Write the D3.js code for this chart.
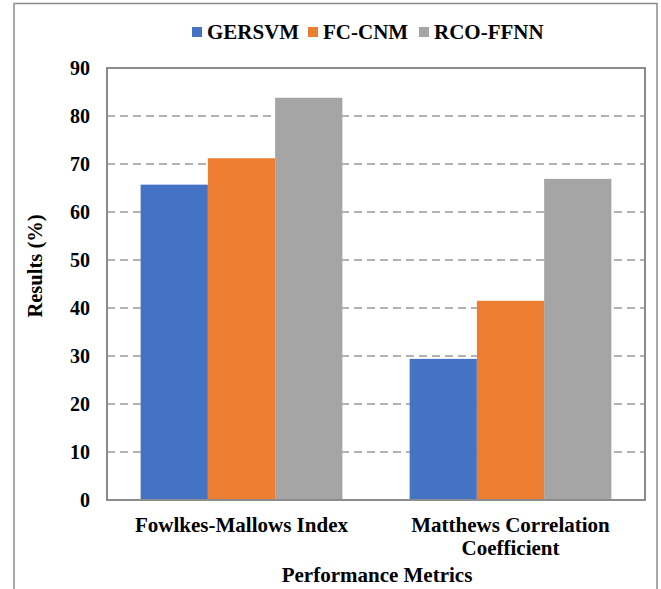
<!DOCTYPE html>
<html lang="en">
<head>
    <meta charset="UTF-8">
    <title>Performance Metrics</title>
    <script src="https://d3js.org/d3.v7.min.js"></script>
    <style>
        body { margin: 0; background: #fff; }
    </style>
</head>
<body>
    <svg width="661" height="589"></svg>

    <script>
        const categories = ["Fowlkes-Mallows Index", "Matthews Correlation Coefficient"];
        const categoryLines = [["Fowlkes-Mallows Index"], ["Matthews Correlation", "Coefficient"]];
        const seriesNames = ["GERSVM", "FC-CNM", "RCO-FFNN"];
        const gersvm = [65.7, 29.4];
        const fccnm = [71.2, 41.5];
        const rcoffnn = [83.8, 66.9];
        const yTicks = [0, 10, 20, 30, 40, 50, 60, 70, 80, 90];
        const colors = ["#4472C4", "#ED7D31", "#A5A5A5"];

        const FONT = "'Liberation Serif', 'Times New Roman', 'DejaVu Serif', serif";
        const seriesValues = [gersvm, fccnm, rcoffnn];
        const svg = d3.select("svg")
            .attr("font-family", FONT)
            .attr("font-weight", "bold");
        const margin = { left: 107, right: 16, top: 68, bottom: 89 };
        const W = 661, H = 589;

        // outer frame
        svg.append("rect")
            .attr("x", 14).attr("y", 3.5)
            .attr("width", 643).attr("height", 600)
            .attr("fill", "none").attr("stroke", "#8c8c8c").attr("stroke-width", 1.5);

        const x0 = d3.scaleBand().domain(categories)
            .range([margin.left, W - margin.right]).padding(0);
        const x1 = d3.scaleBand().domain(seriesNames)
            .range([0, x0.bandwidth()]).paddingInner(0).paddingOuter(0.5);
        const y = d3.scaleLinear().domain([0, 90]).range([H - margin.bottom, margin.top]);

        // gridlines
        svg.append("g").selectAll("line")
            .data(yTicks.filter(d => d > 0))
            .enter().append("line")
            .attr("x1", margin.left).attr("x2", W - margin.right)
            .attr("y1", d => y(d)).attr("y2", d => y(d))
            .attr("stroke", "#999").attr("stroke-width", 1.5)
            .attr("stroke-dasharray", "8,5");

        // bars
        const groups = svg.append("g").selectAll("g")
            .data(categories)
            .enter().append("g")
            .attr("transform", d => `translate(${x0(d)},0)`);

        groups.selectAll("rect")
            .data((c, i) => seriesNames.map((s, j) => ({ s, v: seriesValues[j][i], j })))
            .enter().append("rect")
            .attr("x", d => x1(d.s))
            .attr("y", d => y(d.v))
            .attr("width", x1.bandwidth())
            .attr("height", d => y(0) - y(d.v))
            .attr("fill", d => colors[d.j]);

        // plot border
        svg.append("path")
            .attr("d", `M${margin.left},${y(90)}V${y(0)}H${W - margin.right}V${y(90)}Z`)
            .attr("fill", "none").attr("stroke", "#8c8c8c").attr("stroke-width", 2);

        // y tick labels
        svg.append("g").selectAll("text")
            .data(yTicks)
            .enter().append("text")
            .attr("x", 90).attr("y", d => y(d))
            .attr("dy", "0.35em")
            .attr("text-anchor", "end")
            .attr("font-size", 20)
            .text(d => d);

        // x category labels
        svg.append("g").selectAll("text")
            .data(categories)
            .enter().append("text")
            .attr("x", d => x0(d) + x0.bandwidth() / 2)
            .attr("y", 532)
            .attr("text-anchor", "middle")
            .attr("font-size", 21)
            .each(function(d, i) {
                d3.select(this).selectAll("tspan")
                    .data(categoryLines[i])
                    .enter().append("tspan")
                    .attr("x", x0(d) + x0.bandwidth() / 2)
                    .attr("dy", (t, k) => k === 0 ? 0 : 23)
                    .text(t => t);
            });

        // axis titles
        svg.append("text")
            .attr("x", 377).attr("y", 582)
            .attr("text-anchor", "middle")
            .attr("font-size", 21)
            .text("Performance Metrics");

        svg.append("text")
            .attr("transform", "translate(42,266) rotate(-90)")
            .attr("text-anchor", "middle")
            .attr("font-size", 20.5)
            .text("Results (%)");

        // legend
        const legendX = [192, 308, 419];
        const legend = svg.append("g").selectAll("g")
            .data(seriesNames)
            .enter().append("g")
            .attr("transform", (d, i) => `translate(${legendX[i]},27)`);
        legend.append("rect")
            .attr("width", 10).attr("height", 10)
            .attr("fill", (d, i) => colors[i]);
        legend.append("text")
            .attr("x", 15).attr("y", 12)
            .attr("font-size", 21)
            .text(d => d);
    </script>
</body>
</html>
